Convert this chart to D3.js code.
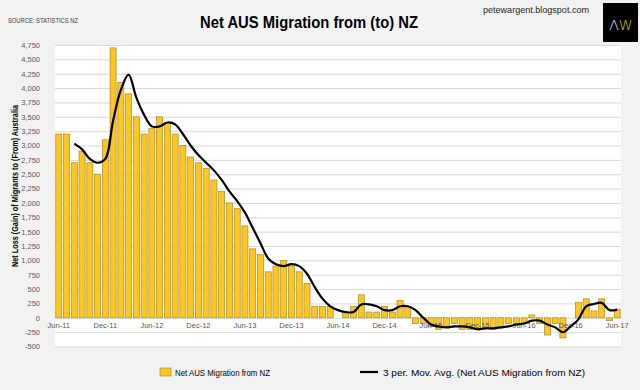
<!DOCTYPE html>
<html><head><meta charset="utf-8">
<script src="https://cdn.jsdelivr.net/npm/d3@7"></script>
<style>html,body{margin:0;padding:0;background:#f2f2f2;} svg{display:block;}</style>
</head><body><svg id="c" width="640" height="390"></svg>
<script>
const months = [
 "Jun-11","Jul-11","Aug-11","Sep-11","Oct-11","Nov-11","Dec-11",
 "Jan-12","Feb-12","Mar-12","Apr-12","May-12","Jun-12","Jul-12","Aug-12","Sep-12","Oct-12","Nov-12","Dec-12",
 "Jan-13","Feb-13","Mar-13","Apr-13","May-13","Jun-13","Jul-13","Aug-13","Sep-13","Oct-13","Nov-13","Dec-13",
 "Jan-14","Feb-14","Mar-14","Apr-14","May-14","Jun-14","Jul-14","Aug-14","Sep-14","Oct-14","Nov-14","Dec-14",
 "Jan-15","Feb-15","Mar-15","Apr-15","May-15","Jun-15","Jul-15","Aug-15","Sep-15","Oct-15","Nov-15","Dec-15",
 "Jan-16","Feb-16","Mar-16","Apr-16","May-16","Jun-16","Jul-16","Aug-16","Sep-16","Oct-16","Nov-16","Dec-16",
 "Jan-17","Feb-17","Mar-17","Apr-17","May-17","Jun-17"];
const netMigration = [
 3200,3200,2700,2900,2700,2500,3100,
 4700,4100,3900,3500,3200,3300,3500,3400,3200,3000,2800,2700,
 2600,2400,2200,2000,1900,1600,1200,1100,800,900,1000,900,
 800,600,200,200,200,0,100,200,400,100,100,200,
 100,300,200,-100,-100,-150,-200,-150,-100,-200,-200,-200,
 -150,-200,-150,-100,-100,-100,50,-100,-300,-100,-350,0,
 270,330,120,330,-50,150];
const movAvg = [
 null,null,3033,2933,2767,2700,2767,
 3433,3967,4233,3833,3533,3333,3333,3400,3367,3200,3000,2833,
 2700,2567,2400,2200,2033,1833,1567,1300,1033,933,900,933,
 900,767,533,333,200,133,100,100,233,233,200,133,
 133,200,200,133,0,-117,-150,-167,-150,-150,-167,-200,
 -183,-183,-167,-150,-117,-100,-50,-50,-117,-167,-250,-150,
 -27,200,240,260,133,143];
const xTickLabels = ["Jun-11","Dec-11","Jun-12","Dec-12","Jun-13","Dec-13","Jun-14","Dec-14","Jun-15","Dec-15","Jun-16","Dec-16","Jun-17"];
const yTicks = [-500,-250,0,250,500,750,1000,1250,1500,1750,2000,2250,2500,2750,3000,3250,3500,3750,4000,4250,4500,4750];

const NARROW = "'Liberation Sans Narrow','Arial Narrow','Liberation Sans',Arial,sans-serif";
const BAR_FILL = "#FFC71E", BAR_STROKE = "#a08c3a";
const svg = d3.select("#c");
const L = 55, R = 621, T = 45, B = 346.5;

const x = d3.scaleBand().domain(months).range([L, R]).paddingInner(0.22).paddingOuter(0.1);
const y = d3.scaleLinear().domain([-500, 4750]).range([B, T]);
const fmt = d3.formatLocale({decimal:".", thousands:",", grouping:[3], currency:["$",""], minus:"-"}).format(",");

// plot area
svg.append("rect").attr("x", L).attr("y", T).attr("width", R - L).attr("height", B - T).attr("fill", "#fff");

// y axis with gridlines
const ya = svg.append("g").attr("transform", `translate(${L},0)`)
  .call(d3.axisLeft(y).tickValues(yTicks).tickSizeInner(-(R - L)).tickSizeOuter(0).tickPadding(15).tickFormat(fmt));
ya.select(".domain").remove();
ya.selectAll(".tick line").attr("stroke", "#d9d9d9").attr("stroke-width", 1);
ya.selectAll(".tick text").attr("fill", "#595959").style("font-family", NARROW).style("font-size", "7.5px");

// bars
svg.append("g").selectAll("rect").data(netMigration).join("rect")
  .attr("x", (d, i) => x(months[i]))
  .attr("y", d => y(Math.max(0, d)))
  .attr("width", x.bandwidth())
  .attr("height", d => Math.abs(y(d) - y(0)))
  .attr("fill", BAR_FILL).attr("stroke", BAR_STROKE).attr("stroke-width", 0.7);

// x axis labels
const xa = svg.append("g").attr("transform", `translate(0,${y(0)})`)
  .call(d3.axisBottom(x).tickValues(xTickLabels).tickSize(0).tickPadding(5));
xa.select(".domain").remove();
xa.selectAll(".tick text").attr("fill", "#595959").style("font-family", NARROW).style("font-size", "7.5px");

// moving average line
const line = d3.line()
  .defined(d => d != null)
  .x((d, i) => x(months[i]) + x.bandwidth() / 2)
  .y(d => y(d))
  .curve(d3.curveCatmullRom.alpha(0.5));
svg.append("path").datum(movAvg).attr("d", line)
  .attr("fill", "none").attr("stroke", "#000").attr("stroke-width", 2.2).attr("stroke-linejoin", "round");

// title
svg.append("text").attr("x", 309).attr("y", 28).attr("text-anchor", "middle")
  .style("font-family", "'Liberation Sans',Arial,sans-serif").style("font-weight", "bold").style("font-size", "17px")
  .attr("textLength", 218).attr("lengthAdjust", "spacingAndGlyphs").attr("fill", "#000")
  .text("Net AUS Migration from (to) NZ");

svg.append("text").attr("x", 8).attr("y", 23)
  .style("font-family", NARROW).style("font-size", "6.5px").attr("fill", "#404040")
  .attr("textLength", 70).attr("lengthAdjust", "spacingAndGlyphs")
  .text("SOURCE: STATISTICS NZ");

svg.append("text").attr("x", 483).attr("y", 13)
  .style("font-family", "'Liberation Sans',Arial,sans-serif").style("font-size", "9px").attr("fill", "#262626")
  .attr("textLength", 106).attr("lengthAdjust", "spacingAndGlyphs")
  .text("petewargent.blogspot.com");

// logo
svg.append("rect").attr("x", 603).attr("y", 3).attr("width", 35).attr("height", 39).attr("fill", "#000");
const logo = svg.append("text").attr("x", 621).attr("y", 30).attr("text-anchor", "middle")
  .style("font-family", "'DejaVu Sans',sans-serif").style("font-size", "14px").style("font-weight", "300");
logo.append("tspan").attr("fill", "#e8e8e8").text("Λ");
logo.append("tspan").attr("fill", "#d8d000").text("W");

// y axis title
svg.append("text").attr("transform", "translate(18,186) rotate(-90)").attr("text-anchor", "middle")
  .style("font-family", "'Liberation Sans',Arial,sans-serif").style("font-weight", "bold").style("font-size", "8.5px")
  .attr("textLength", 162).attr("lengthAdjust", "spacingAndGlyphs").attr("fill", "#000")
  .text("Net Loss (Gain) of Migrants to (From) Australia");

// legend
const lg = svg.append("g");
lg.append("rect").attr("x", 160).attr("y", 368).attr("width", 11).attr("height", 8)
  .attr("fill", BAR_FILL).attr("stroke", BAR_STROKE).attr("stroke-width", 0.7);
lg.append("text").attr("x", 175).attr("y", 375.5)
  .style("font-family", "'Liberation Sans',Arial,sans-serif").style("font-size", "8.5px").attr("fill", "#000")
  .attr("textLength", 95).attr("lengthAdjust", "spacingAndGlyphs")
  .text("Net AUS Migration from NZ");
lg.append("line").attr("x1", 360).attr("x2", 378).attr("y1", 372).attr("y2", 372)
  .attr("stroke", "#000").attr("stroke-width", 2.2);
lg.append("text").attr("x", 383).attr("y", 375.5)
  .style("font-family", "'Liberation Sans',Arial,sans-serif").style("font-size", "8.5px").attr("fill", "#000")
  .attr("textLength", 202).attr("lengthAdjust", "spacingAndGlyphs")
  .text("3 per. Mov. Avg. (Net AUS Migration from NZ)");
</script></body></html>
